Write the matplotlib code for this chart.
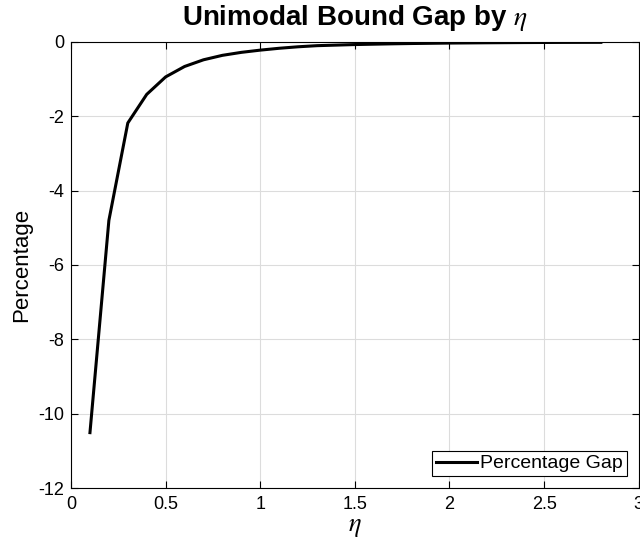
import matplotlib
matplotlib.use('Agg')
import matplotlib.pyplot as plt

eta = [0.1, 0.2, 0.3, 0.4, 0.5, 0.6, 0.7, 0.8, 0.9, 1.0,
       1.1, 1.2, 1.3, 1.4, 1.5, 1.6, 1.7, 1.8, 1.9, 2.0,
       2.1, 2.2, 2.3, 2.4, 2.5, 2.6, 2.7, 2.8]
gap = [-10.51, -4.80, -2.18, -1.41, -0.94, -0.66, -0.48, -0.36, -0.28, -0.22,
       -0.17, -0.13, -0.10, -0.085, -0.07, -0.06, -0.05, -0.042, -0.036, -0.03,
       -0.026, -0.022, -0.019, -0.016, -0.014, -0.012, -0.011, -0.01]

plt.rcParams['font.family'] = ['Liberation Sans', 'DejaVu Sans']
plt.rcParams['mathtext.fontset'] = 'stix'
plt.rcParams['axes.unicode_minus'] = False

fig = plt.figure(figsize=(6.4, 5.42), dpi=100)
ax = fig.add_axes([0.111, 0.0996, 0.887, 0.823])
ax.plot(eta, gap, color='black', linewidth=2.2, label='Percentage Gap')
ax.set_xlim(0, 3)
ax.set_ylim(-12, 0)
ax.set_xticks([0, 0.5, 1, 1.5, 2, 2.5, 3])
ax.set_xticklabels(['0', '0.5', '1', '1.5', '2', '2.5', '3'])
ax.set_yticks([-12, -10, -8, -6, -4, -2, 0])
ax.grid(True, color='#dcdcdc', linewidth=0.8)
ax.set_axisbelow(True)
ax.tick_params(direction='in', top=True, right=True, labelsize=13, length=5, width=0.8)
ax.tick_params(axis='x', pad=6)
ax.tick_params(axis='y', pad=5)
for s in ax.spines.values():
    s.set_linewidth(0.8)
ax.set_xlabel(r'$\eta$', fontsize=19, labelpad=1)
ax.set_ylabel('Percentage', fontsize=16, labelpad=4)
ax.set_title(r'Unimodal Bound Gap by $\eta$', fontsize=20, fontweight='bold', pad=12)
leg = ax.legend(loc='lower right', fontsize=14, fancybox=False, framealpha=1,
                edgecolor='black', borderpad=0.2, handlelength=2.1, handletextpad=0.2,
                borderaxespad=0.6)
leg.get_frame().set_linewidth(0.8)

fig.savefig('out.png', dpi=100)
